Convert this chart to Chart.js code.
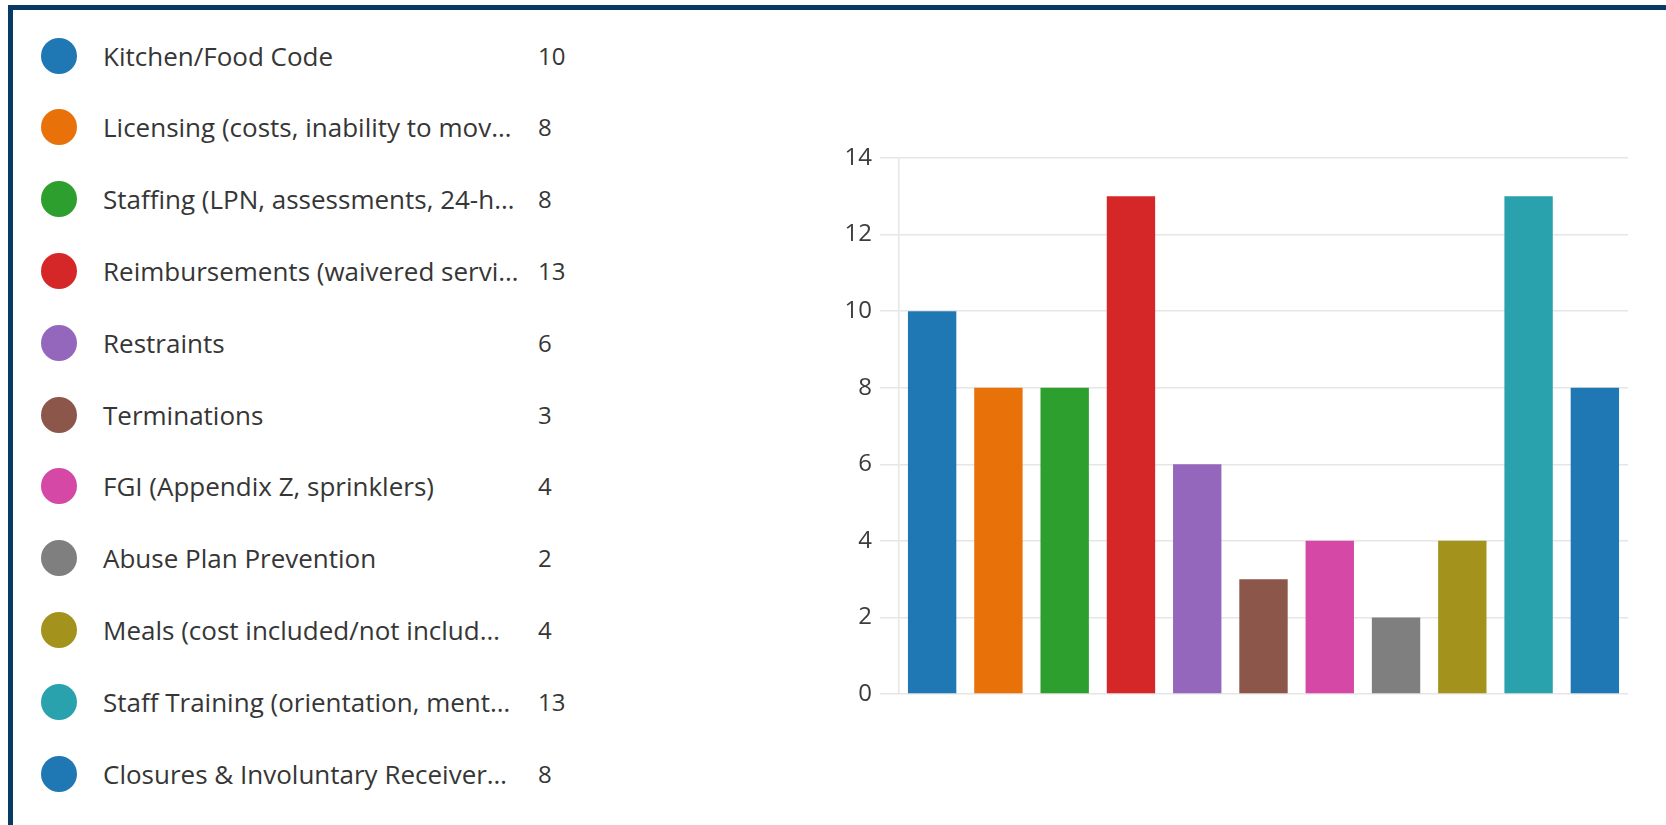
<!DOCTYPE html>
<html>
<head>
<meta charset="utf-8">
<script src="https://cdn.jsdelivr.net/npm/chart.js@4/dist/chart.umd.min.js"></script>
<style>
  html, body { margin: 0; padding: 0; background: #fff; overflow: hidden; }
  body { width: 1666px; height: 825px; position: relative; font-family: "Open Sans", sans-serif; }
  #frame {
    position: absolute; left: 8px; top: 5px; width: 1700px; height: 900px;
    border-left: 5px solid #073a67; border-top: 5px solid #073a67;
  }
  .row { position: absolute; left: 0; height: 40px; }
  .dot { position: absolute; left: 41px; top: 2px; width: 36px; height: 36px; border-radius: 50%; }
  .lbl { position: absolute; left: 103px; top: 3px; white-space: nowrap; font-size: 26px; color: #363636; line-height: 34px; }
  .val { position: absolute; left: 538px; top: 4px; font-size: 24px; color: #363636; line-height: 32px; }
  #wrap { position: absolute; left: 799px; top: 100px; width: 867px; height: 640px; }
</style>
</head>
<body>
<div id="frame"></div>
<div id="legend"></div>
<div id="wrap"><canvas id="graph"></canvas></div>
<script>
// categorias e valores
const categorias = [
  'Kitchen/Food Code',
  'Licensing (costs, inability to mov\u2026',
  'Staffing (LPN, assessments, 24-h\u2026',
  'Reimbursements (waivered servi\u2026',
  'Restraints',
  'Terminations',
  'FGI (Appendix Z, sprinklers)',
  'Abuse Plan Prevention',
  'Meals (cost included/not includ\u2026',
  'Staff Training (orientation, ment\u2026',
  'Closures & Involuntary Receiver\u2026'
];
const valores = [10, 8, 8, 13, 6, 3, 4, 2, 4, 13, 8];
const cores = ['#1f77b4', '#e8710a', '#2c9f2e', '#d62728', '#9467bd', '#8c564b',
               '#d548a6', '#7f7f7f', '#a3931d', '#29a2ae', '#1f77b4'];
const ticksY = [0, 2, 4, 6, 8, 10, 12, 14];

// legenda à esquerda
const legend = document.getElementById('legend');
categorias.forEach((cat, i) => {
  const row = document.createElement('div');
  row.className = 'row';
  row.style.top = (55.5 + i * 71.8 - 20) + 'px';
  row.innerHTML = '<div class="dot" style="background:' + cores[i] + '"></div>' +
    '<div class="lbl"></div><div class="val">' + valores[i] + '</div>';
  row.querySelector('.lbl').textContent = cat;
  legend.appendChild(row);
});

let ctx = document.getElementById('graph').getContext('2d');

let graph = new Chart(ctx, {
  type: 'bar',
  data: {
    labels: categorias,
    datasets: [{
      data: valores,
      backgroundColor: cores,
      borderWidth: 0,
      categoryPercentage: 1,
      barPercentage: 0.73
    }]
  },
  options: {
    responsive: true,
    maintainAspectRatio: false,
    animation: false,
    layout: { padding: { left: 0, right: 38, top: 58, bottom: 46 } },
    plugins: {
      legend: { display: false },
      tooltip: { enabled: false }
    },
    scales: {
      x: { display: false },
      y: {
        min: 0,
        max: 14,
        afterFit: (scale) => { scale.width = 100; },
        afterBuildTicks: (scale) => { scale.ticks = ticksY.map(v => ({ value: v })); },
        ticks: {
          color: '#3c3c3c',
          padding: 8,
          font: { family: '"Open Sans", sans-serif', size: 24 }
        },
        grid: {
          color: '#e6e6e6',
          lineWidth: 1.5,
          tickLength: 19
        },
        border: { display: true, color: '#e6e6e6', width: 1.5 }
      }
    }
  }
});
</script>
</body>
</html>
